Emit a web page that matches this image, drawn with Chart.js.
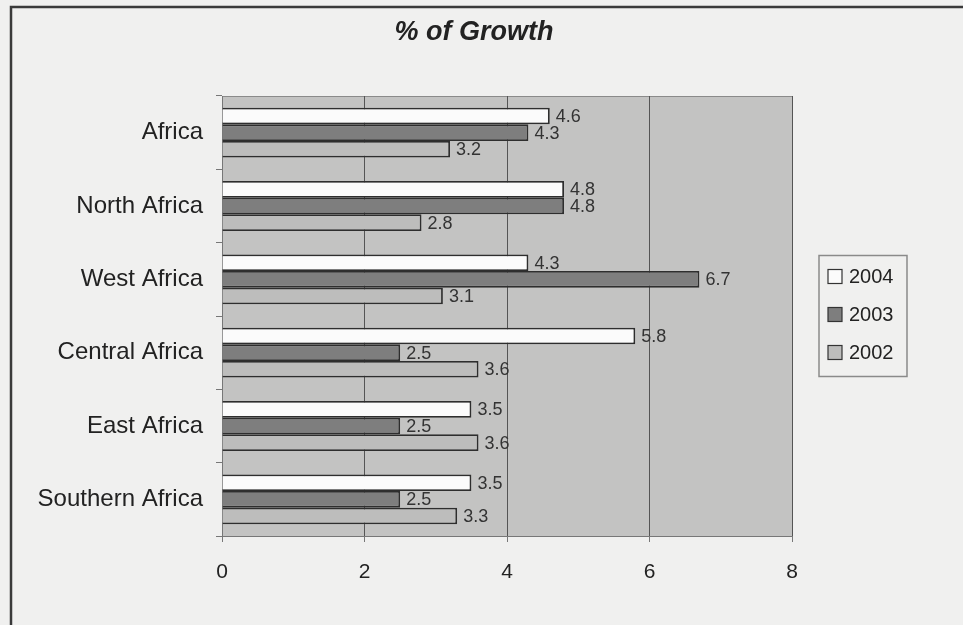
<!DOCTYPE html>
<html>
<head>
<meta charset="utf-8">
<script src="https://cdn.jsdelivr.net/npm/chart.js@4.4.1/dist/chart.umd.min.js"></script>
<style>
  html, body { margin: 0; padding: 0; background: #f0f0ef; }
  #wrap { width: 963px; height: 625px; position: relative; }
</style>
</head>
<body>
<div id="wrap"><canvas id="growthChart" width="963" height="625"></canvas></div>
<script>
// data
const regions = ['Africa', 'North Africa', 'West Africa', 'Central Africa', 'East Africa', 'Southern Africa'];
const growth2004 = [4.6, 4.8, 4.3, 5.8, 3.5, 3.5];
const growth2003 = [4.3, 4.8, 6.7, 2.5, 2.5, 2.5];
const growth2002 = [3.2, 2.8, 3.1, 3.6, 3.6, 3.3];
const xTicks = [0, 2, 4, 6, 8];

const FONT = "'Liberation Sans', Arial, sans-serif";

// page background, frame, title and plot area fill
const backdrop = {
    id: 'backdrop',
    beforeDraw(chart) {
        const ctx = chart.ctx;
        const a = chart.chartArea;
        ctx.save();
        ctx.fillStyle = '#f0f0ef';
        ctx.fillRect(0, 0, chart.width, chart.height);
        // frame line (only left and top are visible)
        ctx.strokeStyle = '#3a3a3a';
        ctx.lineWidth = 2.5;
        ctx.beginPath();
        ctx.moveTo(11, chart.height + 5);
        ctx.lineTo(11, 7);
        ctx.lineTo(chart.width + 5, 7);
        ctx.stroke();
        // title
        ctx.fillStyle = '#222';
        ctx.font = "italic bold 27px " + FONT;
        ctx.textAlign = 'center';
        ctx.textBaseline = 'middle';
        ctx.fillText('% of Growth', 474, 33);
        // plot area
        ctx.fillStyle = '#c3c3c2';
        ctx.fillRect(a.left, a.top, a.right - a.left, a.bottom - a.top);
        ctx.strokeStyle = '#8a8a8a';
        ctx.lineWidth = 1;
        ctx.strokeRect(a.left + 0.5, a.top + 0.5, a.right - a.left, a.bottom - a.top);
        ctx.restore();
    }
};

// numbers at the end of each bar
const barValues = {
    id: 'barValues',
    afterDatasetsDraw(chart) {
        const ctx = chart.ctx;
        ctx.save();
        ctx.font = "18px " + FONT;
        ctx.fillStyle = '#333';
        ctx.textAlign = 'left';
        ctx.textBaseline = 'middle';
        chart.data.datasets.forEach(function (ds, i) {
            const meta = chart.getDatasetMeta(i);
            meta.data.forEach(function (bar, j) {
                ctx.fillText(ds.data[j].toFixed(1), bar.x + 6, bar.y + 1);
            });
        });
        ctx.restore();
    }
};

// boxed legend on the right
const boxLegend = {
    id: 'boxLegend',
    afterDraw(chart) {
        const ctx = chart.ctx;
        const a = chart.chartArea;
        const left = a.right + 27, w = 88, h = 121;
        const top = (a.top + a.bottom) / 2 - h / 2;
        ctx.save();
        ctx.strokeStyle = '#8a8a8a';
        ctx.lineWidth = 1.5;
        ctx.strokeRect(left, top, w, h);
        ctx.font = "20px " + FONT;
        ctx.textAlign = 'left';
        ctx.textBaseline = 'middle';
        chart.data.datasets.forEach(function (ds, i) {
            const cy = top + 21 + i * 38;
            ctx.fillStyle = ds.backgroundColor;
            ctx.fillRect(left + 9, cy - 7, 14, 14);
            ctx.strokeStyle = '#333';
            ctx.lineWidth = 1.2;
            ctx.strokeRect(left + 9, cy - 7, 14, 14);
            ctx.fillStyle = '#222';
            ctx.fillText(ds.label, left + 30, cy + 1);
        });
        ctx.restore();
    }
};

const ctx = document.getElementById('growthChart').getContext('2d');
const growthChart = new Chart(ctx, {
    type: 'bar',
    data: {
        labels: regions,
        datasets: [
            { label: '2004', data: growth2004, backgroundColor: '#fbfbfb', borderColor: '#2e2e2e', borderWidth: 1.8 },
            { label: '2003', data: growth2003, backgroundColor: '#7e7e7e', borderColor: '#2e2e2e', borderWidth: 1.8 },
            { label: '2002', data: growth2002, backgroundColor: '#bdbdbc', borderColor: '#2e2e2e', borderWidth: 1.8 }
        ]
    },
    options: {
        indexAxis: 'y',
        responsive: false,
        animation: false,
        layout: { padding: { left: 12, right: 171, top: 96, bottom: 20 } },
        datasets: { bar: { categoryPercentage: 0.68, barPercentage: 1.0 } },
        plugins: {
            legend: { display: false },
            title: { display: false },
            tooltip: { enabled: false }
        },
        scales: {
            x: {
                min: 0,
                max: 8,
                afterBuildTicks: function (axis) {
                    axis.ticks = xTicks.map(v => ({ value: v }));
                },
                afterFit: function (axis) { axis.height = 69; },
                ticks: { font: { size: 21, family: FONT }, color: '#222', padding: 18 },
                grid: { color: '#555', lineWidth: 1, tickLength: 6, tickColor: '#777' },
                border: { display: true, color: '#777', width: 1 }
            },
            y: {
                afterFit: function (axis) { axis.width = 210; },
                ticks: { font: { size: 24, family: FONT }, color: '#222', padding: 13 },
                grid: { offset: true, drawOnChartArea: false, drawTicks: true, tickLength: 6, tickColor: '#777' },
                border: { display: true, color: '#777', width: 1 }
            }
        }
    },
    plugins: [backdrop, barValues, boxLegend]
});
</script>
</body>
</html>
